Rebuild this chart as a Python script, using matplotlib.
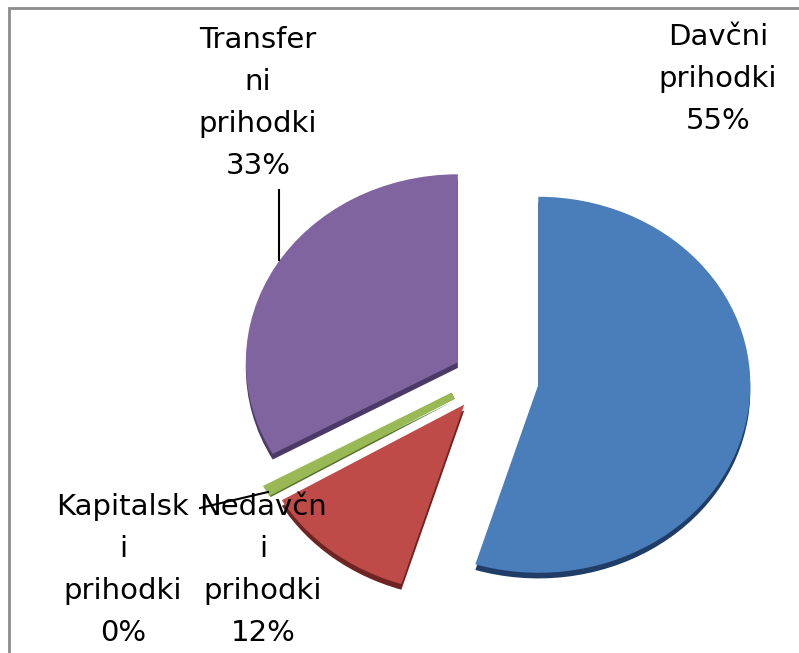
import matplotlib.pyplot as plt
from matplotlib.patches import Rectangle

# delez prihodkov
labels = ['Davčni\nprihodki', 'Nedavčn\ni\nprihodki', 'Kapitalsk\ni\nprihodki', 'Transfer\nni\nprihodki']
values = [54.8, 11.7, 0.4, 33.1]
colors = ['#4a7ebb', '#be4b48', '#98b954', '#7f64a0']
rims = ['#1f3d66', '#6e2422', '#5a7430', '#4b3a66']
explode = [0.24, 0.18, 0.19, 0.165]

W, H = 799, 653
fig = plt.figure(figsize=(W / 100, H / 100), dpi=100)
ax = fig.add_axes([0, 0, 1, 1])

# pie centre in pixels and radii (slightly tilted, so elliptic)
cx, cy = 488, 378
rx, ry = 212, 188

# dark rim underneath to fake the 3d edge
ax.pie(values, explode=explode, colors=rims, startangle=90, counterclock=False,
       center=(0, -0.03), wedgeprops=dict(linewidth=0))
wedges, _ = ax.pie(values, explode=explode, colors=colors, startangle=90,
                   counterclock=False, wedgeprops=dict(linewidth=0))
# the tiny slice is drawn as a band, like in excel
wedges[2].set_edgecolor(colors[2])
wedges[2].set_linewidth(5)

ax.set_aspect('auto')
ax.set_xlim(-cx / rx, (W - cx) / rx)
ax.set_ylim(-(H - cy) / ry, cy / ry)
ax.axis('off')

pct = [f'{v:.0f}%' for v in values]
label_pos = [(718, 79), (263, 570), (123, 570), (258, 103)]
for lab, p, (x, y) in zip(labels, pct, label_pos):
    fig.text(x / W, 1 - y / H, lab + '\n' + p, ha='center', va='center',
             fontsize=21, family='DejaVu Sans', linespacing=1.63)

# leader lines
def px(x, y):
    return (x - cx) / rx, (cy - y) / ry

ax.plot(*zip(px(279, 190), px(279, 260)), color='black', lw=1.5)
ax.plot(*zip(px(200, 508), px(268, 492)), color='black', lw=1.5)

fig.patches.append(Rectangle((8.5 / W, -0.1), 1.5, 1.1 - 8.5 / H, fill=False,
                             ec='#8c8c8c', lw=2, transform=fig.transFigure))

fig.savefig('out.png', dpi=100)
